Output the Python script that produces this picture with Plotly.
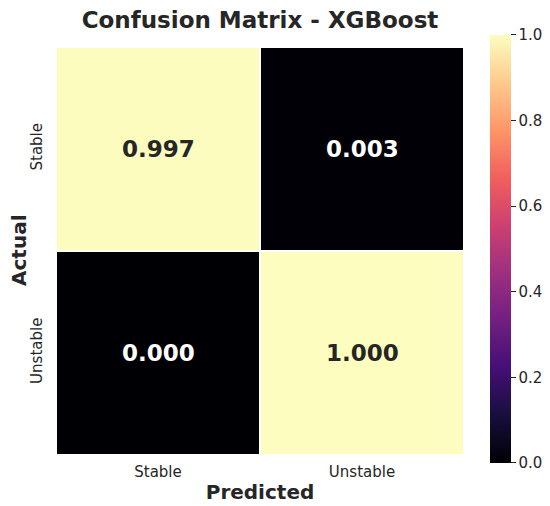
import plotly.graph_objects as go

# 混淆矩阵数据 (按行归一化)
labels = ["Stable", "Unstable"]
cm_values = [
    [0.997, 0.003],
    [0.000, 1.000],
]
cbar_ticks = [0.0, 0.2, 0.4, 0.6, 0.8, 1.0]

FONT = "DejaVu Sans"
DARK = "#262626"

# 页面 body 默认有 8px 边距, 画布尺寸和边距按此扣除
W, H = 542, 498
PLOT = 408  # 绘图区边长(px)

fig = go.Figure(
    go.Heatmap(
        z=cm_values,
        x=labels,
        y=labels,
        colorscale="Magma",
        zmin=0, zmax=1,
        xgap=2, ygap=2,
        hoverinfo="skip",
        colorbar=dict(
            x=1.064, xanchor="left",
            y=0.505, yanchor="middle",
            thickness=21,
            lenmode="pixels", len=428,
            outlinewidth=0,
            xpad=0, ypad=0,
            ticks="outside", ticklen=5, tickwidth=1, tickcolor=DARK,
            tickvals=cbar_ticks,
            tickformat=".1f",
            tickfont=dict(family=FONT, size=15, color=DARK),
        ),
    )
)

# 单元格数值标注
for i, row in enumerate(cm_values):
    for j, v in enumerate(row):
        fig.add_annotation(
            x=labels[j], y=labels[i],
            text=f"<b>{v:.3f}</b>",
            showarrow=False,
            font=dict(family=FONT, size=23, color="white" if v < 0.5 else DARK),
        )

# y轴标题 (用注释放得更靠左)
fig.add_annotation(
    xref="paper", yref="paper",
    x=(11 - 48) / PLOT, y=0.5,
    xanchor="center", yanchor="middle",
    text="<b>Actual</b>", textangle=-90,
    showarrow=False,
    font=dict(family=FONT, size=20, color=DARK),
)

fig.update_layout(
    width=W, height=H,
    margin=dict(l=48, r=86, t=39, b=51, autoexpand=False),
    paper_bgcolor="white",
    plot_bgcolor="white",
    title=dict(
        text="<b>Confusion Matrix - XGBoost</b>",
        x=252 / W, xanchor="center",
        y=1 - 12 / H, yanchor="middle",
        font=dict(family=FONT, size=23, color=DARK),
    ),
    font=dict(family=FONT, color=DARK),
)

fig.update_xaxes(
    showgrid=False, zeroline=False, showline=False, ticks="",
    tickfont=dict(size=15, color=DARK),
    ticklabelstandoff=6,
    title=dict(text="<b>Predicted</b>", font=dict(size=20, color=DARK), standoff=4),
)
fig.update_yaxes(
    autorange="reversed",
    showgrid=False, zeroline=False, showline=False, ticks="",
    tickangle=-90,
    tickfont=dict(size=15, color=DARK),
    ticklabelstandoff=10,
)

fig.write_html("out.html")
